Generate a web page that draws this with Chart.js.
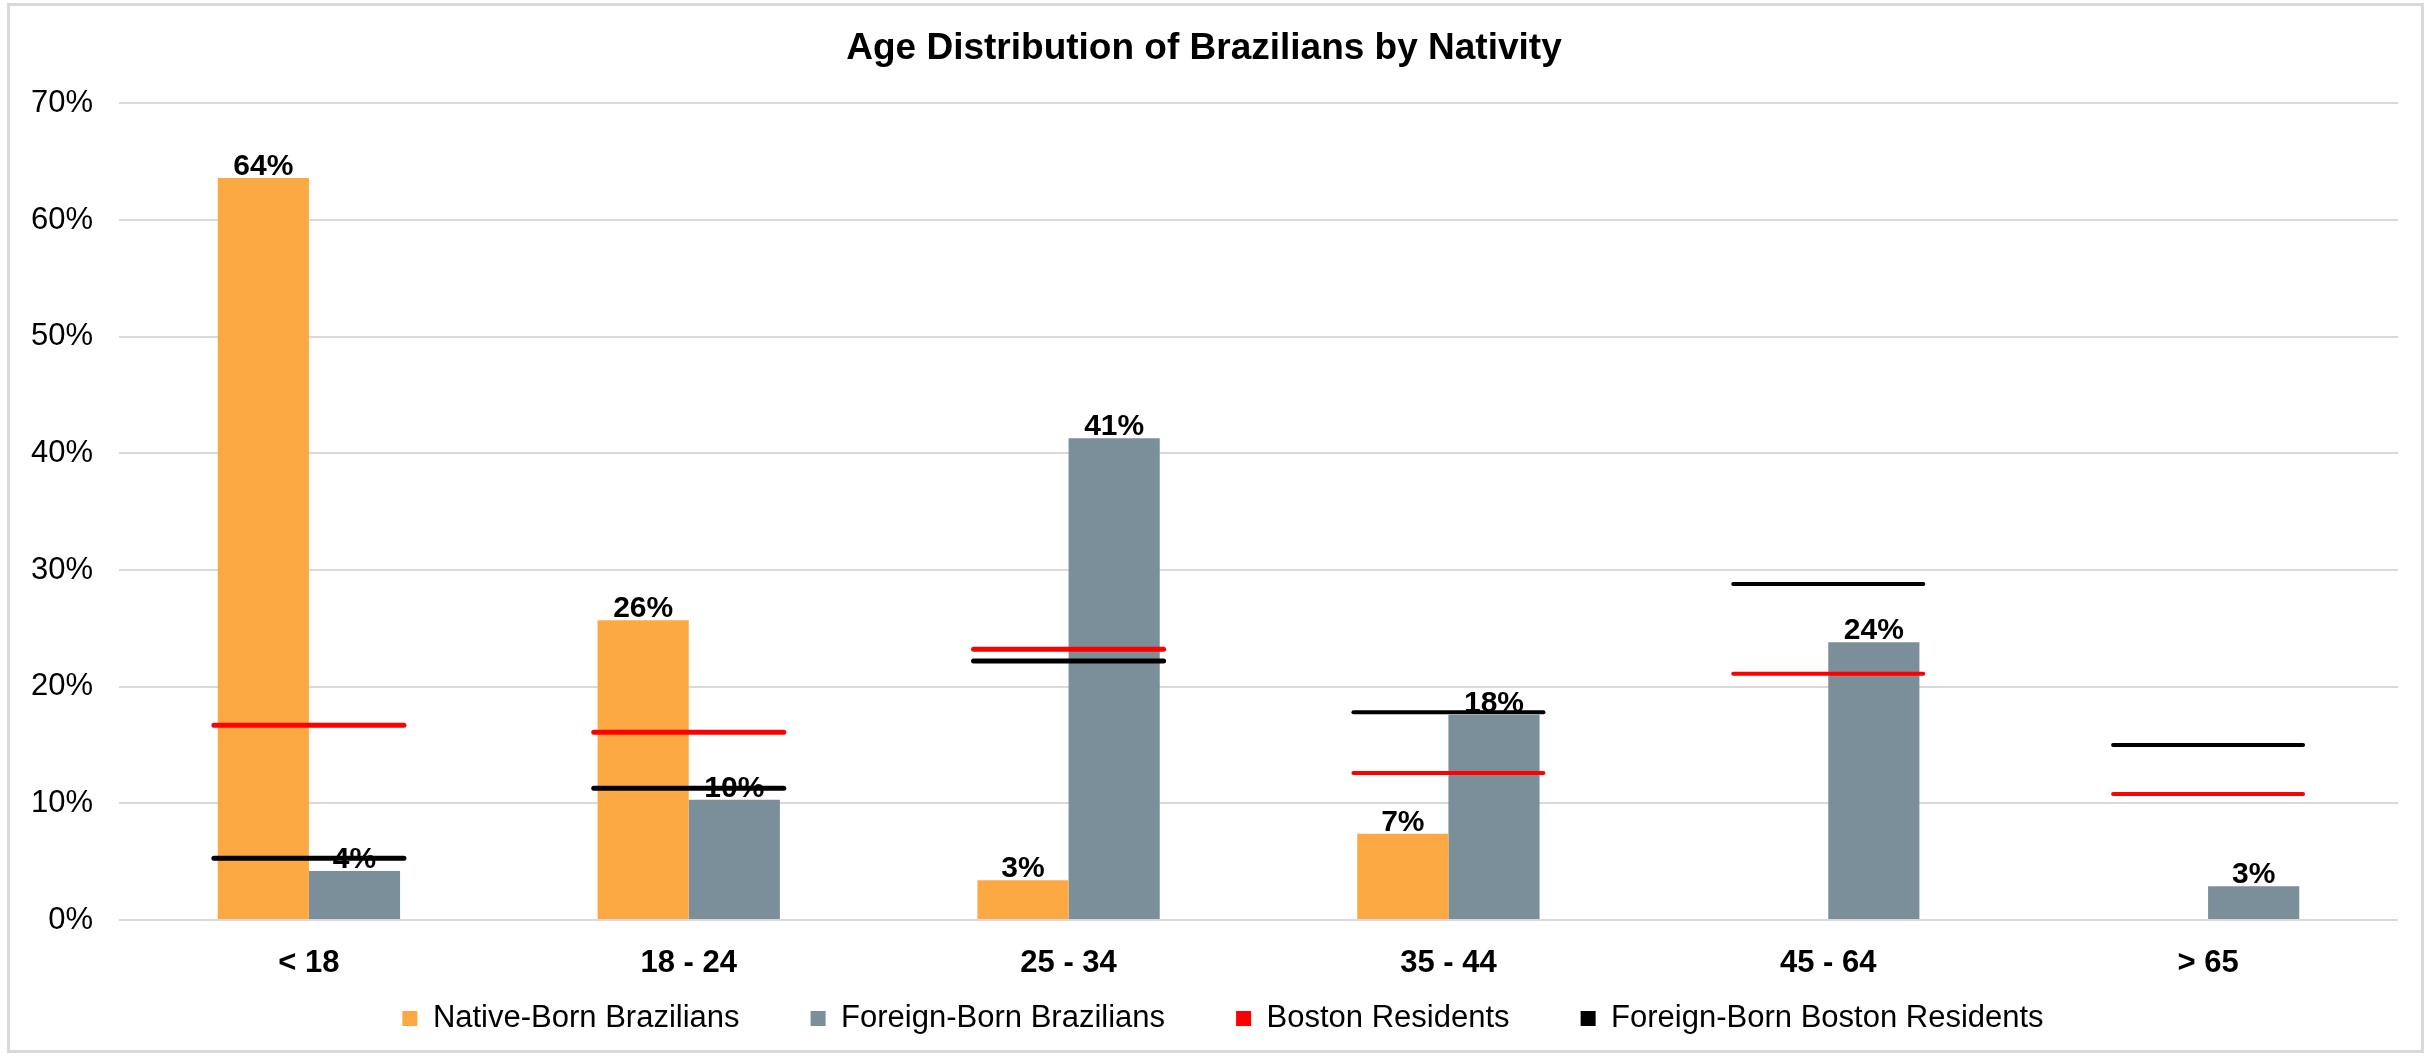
<!DOCTYPE html>
<html>
<head>
<meta charset="utf-8">
<script src="https://cdn.jsdelivr.net/npm/chart.js@4.4.1/dist/chart.umd.min.js"></script>
<style>
  html, body { margin: 0; padding: 0; background: #fff; }
  #wrap {
    position: absolute; left: 7px; top: 3px;
    width: 2417px; height: 1050px;
    border: 3px solid #d9d9d9; box-sizing: border-box;
  }
  canvas { display: block; }
</style>
</head>
<body>
<div id="wrap"><canvas id="ageChart" width="2411" height="1044"></canvas></div>
<script>
const ageGroups = ['< 18', '18 - 24', '25 - 34', '35 - 44', '45 - 64', '> 65'];
const seriesNames = ['Native-Born Brazilians', 'Foreign-Born Brazilians', 'Boston Residents', 'Foreign-Born Boston Residents'];

// percent of each group
const nativeBorn = [63.6, 25.7, 3.4, 7.4, null, null];
const foreignBorn = [4.2, 10.3, 41.3, 17.6, 23.8, 2.9];
const bostonAll = [16.7, 16.1, 23.2, 12.6, 21.1, 10.8];
const bostonForeign = [5.3, 11.3, 22.2, 17.8, 28.8, 15.0];

const yTicks = [0, 10, 20, 30, 40, 50, 60, 70];

const FONT = '"Liberation Sans", Arial, sans-serif';
Chart.defaults.font.family = FONT;
Chart.defaults.color = '#000';

// value labels above bars, drawn before the reference lines go on top
const barLabels = {
    id: 'barLabels',
    beforeDatasetDraw(chart, args) {
        if (args.meta.type === 'line') chart.ctx.lineCap = 'round';
    },
    afterDatasetDraw(chart, args) {
        const ctx = chart.ctx;
        if (args.meta.type !== 'bar') {
            ctx.lineCap = 'butt';
            return;
        }
        const values = chart.data.datasets[args.index].data;
        ctx.save();
        ctx.font = 'bold 30px ' + FONT;
        ctx.fillStyle = '#000';
        ctx.textAlign = 'center';
        ctx.textBaseline = 'alphabetic';
        args.meta.data.forEach((bar, i) => {
            if (values[i] == null) return;
            ctx.fillText(Math.round(values[i]) + '%', bar.x, bar.y - 3);
        });
        ctx.restore();
    }
};

// nudge the legend row a little to the right, like the original
const legendShift = {
    id: 'legendShift',
    afterLayout(chart) {
        chart.legend.left += 19;
        chart.legend.right += 19;
    }
};

function refLine(label, data, color, widths) {
    return {
        type: 'line',
        label: label,
        data: data,
        showLine: false,
        borderColor: color,
        backgroundColor: color,
        borderWidth: 0,
        pointStyle: 'line',
        pointRadius: 95,
        pointHoverRadius: 95,
        pointBorderColor: color,
        pointBackgroundColor: color,
        pointBorderWidth: widths,
        order: 1
    };
}

new Chart(document.getElementById('ageChart'), {
    type: 'bar',
    data: {
        labels: ageGroups,
        datasets: [
            {
                label: seriesNames[0],
                data: nativeBorn,
                backgroundColor: '#FDA943',
                borderWidth: 0,
                order: 2
            },
            {
                label: seriesNames[1],
                data: foreignBorn,
                backgroundColor: '#7A8F99',
                borderWidth: 0,
                order: 2
            },
            refLine(seriesNames[2], bostonAll, '#FF0000', [5, 5, 5, 4, 4, 4]),
            refLine(seriesNames[3], bostonForeign, '#000000', [5, 5, 5, 4, 4, 4])
        ]
    },
    options: {
        responsive: false,
        animation: false,
        datasets: {
            bar: { categoryPercentage: 0.48, barPercentage: 1.0 }
        },
        layout: { autoPadding: false, padding: { top: 6, left: 0, right: 23, bottom: 6 } },
        plugins: {
            title: {
                display: true,
                text: 'Age Distribution of Brazilians by Nativity',
                font: { size: 37, weight: 'bold' },
                color: '#000',
                padding: { top: 15, bottom: 32 }
            },
            legend: {
                position: 'bottom',
                labels: {
                    font: { size: 31 },
                    color: '#000',
                    boxWidth: 15,
                    boxHeight: 15,
                    padding: 28,
                    sort: (a, b) => a.datasetIndex - b.datasetIndex,
                    generateLabels(chart) {
                        const items = Chart.defaults.plugins.legend.labels.generateLabels(chart);
                        items.forEach(it => {
                            if (it.datasetIndex < seriesNames.length - 1) it.text += '     ';
                        });
                        return items;
                    }
                }
            },
            tooltip: { enabled: false }
        },
        scales: {
            x: {
                grid: { display: false },
                border: { display: false },
                ticks: { font: { size: 31, weight: 'bold' }, color: '#000', padding: 17 },
                afterFit(scale) { scale.height = 55; }
            },
            y: {
                min: 0,
                max: 70,
                afterBuildTicks(scale) { scale.ticks = yTicks.map(v => ({ value: v })); },
                grid: { color: '#d9d9d9', lineWidth: 2, drawTicks: false },
                border: { display: false },
                ticks: {
                    font: { size: 31 },
                    color: '#000',
                    padding: 26,
                    callback: v => v + '%'
                },
                afterFit(scale) { scale.width = 109; }
            }
        }
    },
    plugins: [barLabels, legendShift]
});
</script>
</body>
</html>
